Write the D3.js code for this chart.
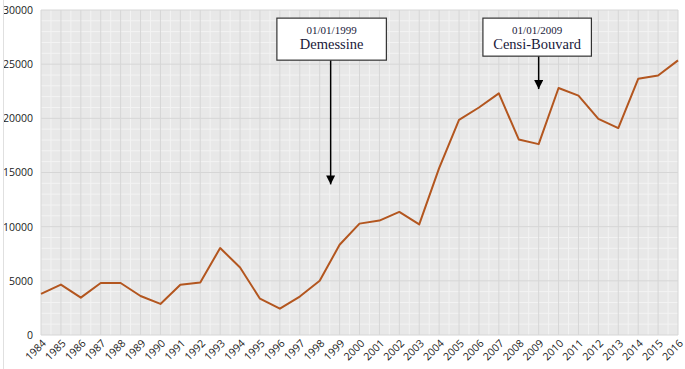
<!DOCTYPE html>
<html>
<head>
<meta charset="utf-8">
<script src="https://cdn.jsdelivr.net/npm/d3@7"></script>
<style>
  body { margin: 0; background: #fff; }
  .tick text { font-family: "Open Sans", "Liberation Sans", sans-serif; font-size: 10.5px; fill: #222; }
  .note text { font-family: "Liberation Serif", "DejaVu Serif", serif; fill: #1a1a3a; }
</style>
</head>
<body>
<svg width="685" height="369"></svg>
<script>
const years = d3.range(1984, 2017);
const values = [3800, 4650, 3450, 4800, 4800, 3600, 2870, 4630, 4850, 8030,
                6230, 3350, 2430, 3550, 5000, 8330, 10280, 10560, 11360, 10210,
                15400, 19850, 21000, 22300, 18050, 17620, 22800, 22100, 19950, 19100,
                23650, 23950, 25350];
const yTicks = [0, 5000, 10000, 15000, 20000, 25000, 30000];
const notes = [
  {date: '01/01/1999', name: 'Demessine', year: 1998.55, top: 25370, tip: 13900, from: 1995.85, to: 2001.35, boxTop: 29250},
  {date: '01/01/2009', name: 'Censi-Bouvard', year: 2009, top: 25740, tip: 22700, from: 2006.2, to: 2011.65, boxTop: 29250}
];

const svg = d3.select('svg');
const margin = {top: 10, right: 7, bottom: 34, left: 41};
const width = +svg.attr('width') - margin.left - margin.right;
const height = +svg.attr('height') - margin.top - margin.bottom;
const chart = svg.append('g').attr('transform', 'translate(' + margin.left + ',' + margin.top + ')');

const x = d3.scaleLinear().domain([1984, 2016]).range([0, width]);
const y = d3.scaleLinear().domain([0, 30000]).range([height, 0]);

// outer frame line on the left
svg.append('line').attr('x1', 3.5).attr('x2', 3.5).attr('y1', 0).attr('y2', 369)
   .attr('stroke', '#e0e0e0');

chart.append('rect').attr('width', width).attr('height', height).attr('fill', '#e8e8e8');

// minor grid
chart.append('g').selectAll('line').data(d3.range(1984.5, 2016, 1)).enter().append('line')
  .attr('x1', d => x(d)).attr('x2', d => x(d)).attr('y1', 0).attr('y2', height)
  .attr('stroke', '#f3f3f3').attr('stroke-width', 1);
chart.append('g').selectAll('line').data(d3.range(1000, 30000, 1000).filter(d => d % 5000)).enter().append('line')
  .attr('x1', 0).attr('x2', width).attr('y1', d => y(d)).attr('y2', d => y(d))
  .attr('stroke', '#f3f3f3').attr('stroke-width', 1);

// major grid
chart.append('g').selectAll('line').data(years).enter().append('line')
  .attr('x1', d => x(d)).attr('x2', d => x(d)).attr('y1', 0).attr('y2', height)
  .attr('stroke', '#d6d6d6').attr('stroke-width', 1);
chart.append('g').selectAll('line').data(yTicks).enter().append('line')
  .attr('x1', 0).attr('x2', width).attr('y1', d => y(d)).attr('y2', d => y(d))
  .attr('stroke', '#d6d6d6').attr('stroke-width', 1);

// axes
chart.append('g').attr('class', 'axis axis--y')
  .call(d3.axisLeft(y).tickValues(yTicks).tickSize(0).tickPadding(8).tickFormat(d3.format('d')))
  .call(g => g.select('.domain').remove());

chart.append('g').attr('class', 'axis axis--x')
  .attr('transform', 'translate(0,' + height + ')')
  .call(d3.axisBottom(x).tickValues(years).tickSize(0).tickFormat(d3.format('d')))
  .call(g => g.select('.domain').remove())
  .selectAll('text')
  .attr('text-anchor', 'end')
  .attr('dy', null)
  .attr('transform', 'translate(3,7) rotate(-45)');

// series line
const line = d3.line().x((d, i) => x(years[i])).y(d => y(d));
chart.append('path').datum(values)
  .attr('fill', 'none').attr('stroke', '#b3561f').attr('stroke-width', 2)
  .attr('stroke-linejoin', 'round').attr('d', line);

// annotations
svg.append('defs').append('marker')
  .attr('id', 'arrow').attr('viewBox', '0 0 10 10').attr('refX', 10).attr('refY', 5)
  .attr('markerWidth', 9).attr('markerHeight', 9).attr('markerUnits', 'userSpaceOnUse')
  .attr('orient', 'auto')
  .append('path').attr('d', 'M0,0L10,5L0,10z').attr('fill', '#000');

const note = chart.selectAll('.note').data(notes).enter().append('g').attr('class', 'note');
note.append('line')
  .attr('x1', d => x(d.year)).attr('x2', d => x(d.year))
  .attr('y1', d => y(d.top)).attr('y2', d => y(d.tip))
  .attr('stroke', '#000').attr('stroke-width', 1.5)
  .attr('marker-end', 'url(#arrow)');
note.append('rect')
  .attr('x', d => x(d.from)).attr('width', d => x(d.to) - x(d.from))
  .attr('y', d => y(d.boxTop)).attr('height', d => y(d.top) - y(d.boxTop))
  .attr('fill', '#fff').attr('stroke', '#333').attr('stroke-width', 1.2);
note.append('text')
  .attr('x', d => (x(d.from) + x(d.to)) / 2).attr('y', d => y(d.boxTop) + 16)
  .attr('text-anchor', 'middle').attr('font-size', 11).text(d => d.date);
note.append('text')
  .attr('x', d => (x(d.from) + x(d.to)) / 2).attr('y', d => y(d.boxTop) + 31)
  .attr('text-anchor', 'middle').attr('font-size', 14.5).text(d => d.name);
</script>
</body>
</html>
